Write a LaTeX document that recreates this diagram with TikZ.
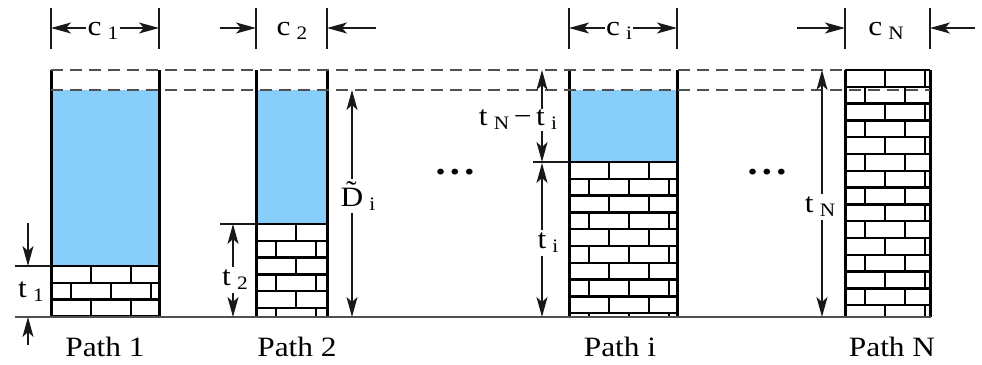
\documentclass[tikz,border=0pt]{standalone}
\usepackage{fontspec}
\setmainfont{Liberation Serif}[FakeStretch=1.12]
\usetikzlibrary{arrows.meta,positioning,calc}
\definecolor{waterBlue}{RGB}{135,206,250}
\definecolor{dashGray}{RGB}{80,80,80}
\definecolor{dimInk}{RGB}{25,25,25}
\tikzset{
  dim label/.style={font=\fontsize{28}{30}\selectfont,inner sep=3pt,text=black},
  dim arrow/.style={-{Stealth[length=20pt,width=11pt,inset=5pt]},line width=1.3pt,draw=dimInk},
  dim tick/.style={line width=1.3pt,draw=dimInk},
  wall/.style={line width=3pt,draw=black},
  brick line/.style={line width=2.3pt,draw=black},
  level line/.style={dash pattern=on 12pt off 7pt,line width=2.2pt,draw=dashGray},
  ground line/.style={line width=2pt,draw=dashGray},
  path label/.style={font=\fontsize{28}{30}\selectfont,inner sep=0pt},
  dots label/.style={font=\fontsize{36}{38}\selectfont\bfseries,inner sep=0pt}
}
\newcommand{\lowsub}[1]{\hspace{0.22em}\raisebox{-0.3ex}{\fontsize{19}{19}\selectfont #1}}
% brick pattern: left, right, top, bottom
\newcommand{\brickwall}[4]{%
  \begin{scope}
    \clip (#1,#3) rectangle (#2,#4);
    \foreach \r in {0,...,15} {
      \pgfmathsetmacro\ya{#3+\r*16.8}
      \pgfmathsetmacro\yb{\ya+16.8}
      \pgfmathsetmacro\off{mod(\r,2)==0 ? 40 : 20}
      \draw[brick line] (#1,\yb) -- (#2,\yb);
      \foreach \k in {0,...,3}
        \draw[brick line] ({#1+\off+40*\k},\ya) -- ({#1+\off+40*\k},\yb);
    }
  \end{scope}}

\begin{document}
\begin{tikzpicture}[x=1pt,y=-1pt]
  \useasboundingbox (0,0) rectangle (982,364);

  % water and bricks
  \fill[waterBlue] (51,90) rectangle (159,266);
  \fill[waterBlue] (256,90) rectangle (327,224);
  \fill[waterBlue] (569,90) rectangle (677,162);
  \brickwall{51}{159}{266}{317}
  \brickwall{256}{327}{224}{317}
  \brickwall{569}{677}{162}{317}
  \brickwall{845}{930}{70}{317}
  \draw[brick line] (51,266) -- (159,266);
  \draw[brick line] (256,224) -- (327,224);
  \draw[brick line] (569,162) -- (677,162);
  \draw[brick line] (845,70) -- (930,70);
  \foreach \xl/\xr in {51/159,256/327,569/677,845/930} {
    \draw[wall] (\xl,70) -- (\xl,317);
    \draw[wall] (\xr,70) -- (\xr,317);
  }
  \draw[level line] (51,70) -- (845,70);
  \draw[level line] (51,90) -- (930,90);
  \draw[ground line] (15,317) -- (931,317);

  % widths c
  \foreach \x in {51,159,256,327,569,677,845,930}
    \draw[dim tick] (\x,8) -- (\x,49);
  \coordinate (c1l) at (51,28);   \coordinate (c1r) at (159,28);
  \coordinate (c2l) at (256,28);  \coordinate (c2r) at (327,28);
  \coordinate (cil) at (569,28);  \coordinate (cir) at (677,28);
  \coordinate (cNl) at (845,28);  \coordinate (cNr) at (930,28);
  \coordinate (c2a) at (220,28);  \coordinate (c2b) at (376,28);
  \coordinate (cNa) at (797,28);  \coordinate (cNb) at (975,28);
  \node[dim label,inner sep=1pt] (c1) at (103,31) {c\lowsub{1}};
  \node[dim label] (c2) at (292,31) {c\lowsub{2}};
  \node[dim label,inner sep=1pt] (ci) at (619,31) {c\lowsub{i}};
  \node[dim label] (cN) at (886,31) {c\lowsub{N}};
  \draw[dim arrow] (c1l -| c1.west) -- (c1l);
  \draw[dim arrow] (c1r -| c1.east) -- (c1r);
  \draw[dim arrow] (c2a) -- (c2l);
  \draw[dim arrow] (c2b) -- (c2r);
  \draw[dim arrow] (cil -| ci.west) -- (cil);
  \draw[dim arrow] (cir -| ci.east) -- (cir);
  \draw[dim arrow] (cNa) -- (cNl);
  \draw[dim arrow] (cNb) -- (cNr);

  % heights t
  \coordinate (t1top) at (28,266);  \coordinate (t1bot) at (28,317);
  \coordinate (t1a) at (28,223);    \coordinate (t1b) at (28,345);
  \node[dim label] (t1) at (31,292) {t\lowsub{1}};
  \draw[dim tick] (15,266) -- (51,266);
  \draw[dim arrow] (t1a) -- (t1top);
  \draw[dim arrow] (t1b) -- (t1bot);

  \coordinate (t2top) at (233,224); \coordinate (t2bot) at (233,317);
  \node[dim label] (t2) at (235,280) {t\lowsub{2}};
  \draw[dim tick] (220,224) -- (256,224);
  \draw[dim arrow] (t2top |- t2.north) -- (t2top);
  \draw[dim arrow] (t2bot |- t2.south) -- (t2bot);

  \coordinate (dtop) at (352,90);   \coordinate (dbot) at (352,317);
  \node[dim label] (dlab) at (358,196) {\~{D}\lowsub{i}};
  \draw[dim arrow] (dtop |- dlab.north) -- (dtop);
  \draw[dim arrow] (dbot |- dlab.south) -- (dbot);

  \coordinate (tdtop) at (542,70);  \coordinate (tdbot) at (542,162);
  \node[dim label,inner sep=1pt] (tdiff) at (518,120) {t\lowsub{N}\,−\,t\lowsub{i}};
  \draw[dim tick] (533,162) -- (569,162);
  \draw[dim arrow] (tdtop |- tdiff.north) -- (tdtop);
  \draw[dim arrow] (tdbot |- tdiff.south) -- (tdbot);

  \coordinate (titop) at (542,163); \coordinate (tibot) at (542,317);
  \node[dim label] (ti) at (548,243) {t\lowsub{i}};
  \draw[dim arrow] (titop |- ti.north) -- (titop);
  \draw[dim arrow] (tibot |- ti.south) -- (tibot);

  \coordinate (tNtop) at (822,70);  \coordinate (tNbot) at (822,317);
  \node[dim label] (tN) at (820,207) {t\lowsub{N}};
  \draw[dim arrow] (tNtop |- tN.north) -- (tNtop);
  \draw[dim arrow] (tNbot |- tN.south) -- (tNbot);

  % gaps and path names
  \node[dots label] (gap1) at (455,172) {.\hspace{0.12em}.\hspace{0.12em}.};
  \node[dots label] (gap2) at (767,172) {.\hspace{0.12em}.\hspace{0.12em}.};
  \node[path label] (p1) at (105,347) {Path 1};
  \node[path label] (p2) at (297,347) {Path 2};
  \node[path label] (pi) at (620,347) {Path i};
  \node[path label] (pN) at (892,347) {Path N};
\end{tikzpicture}
\end{document}
